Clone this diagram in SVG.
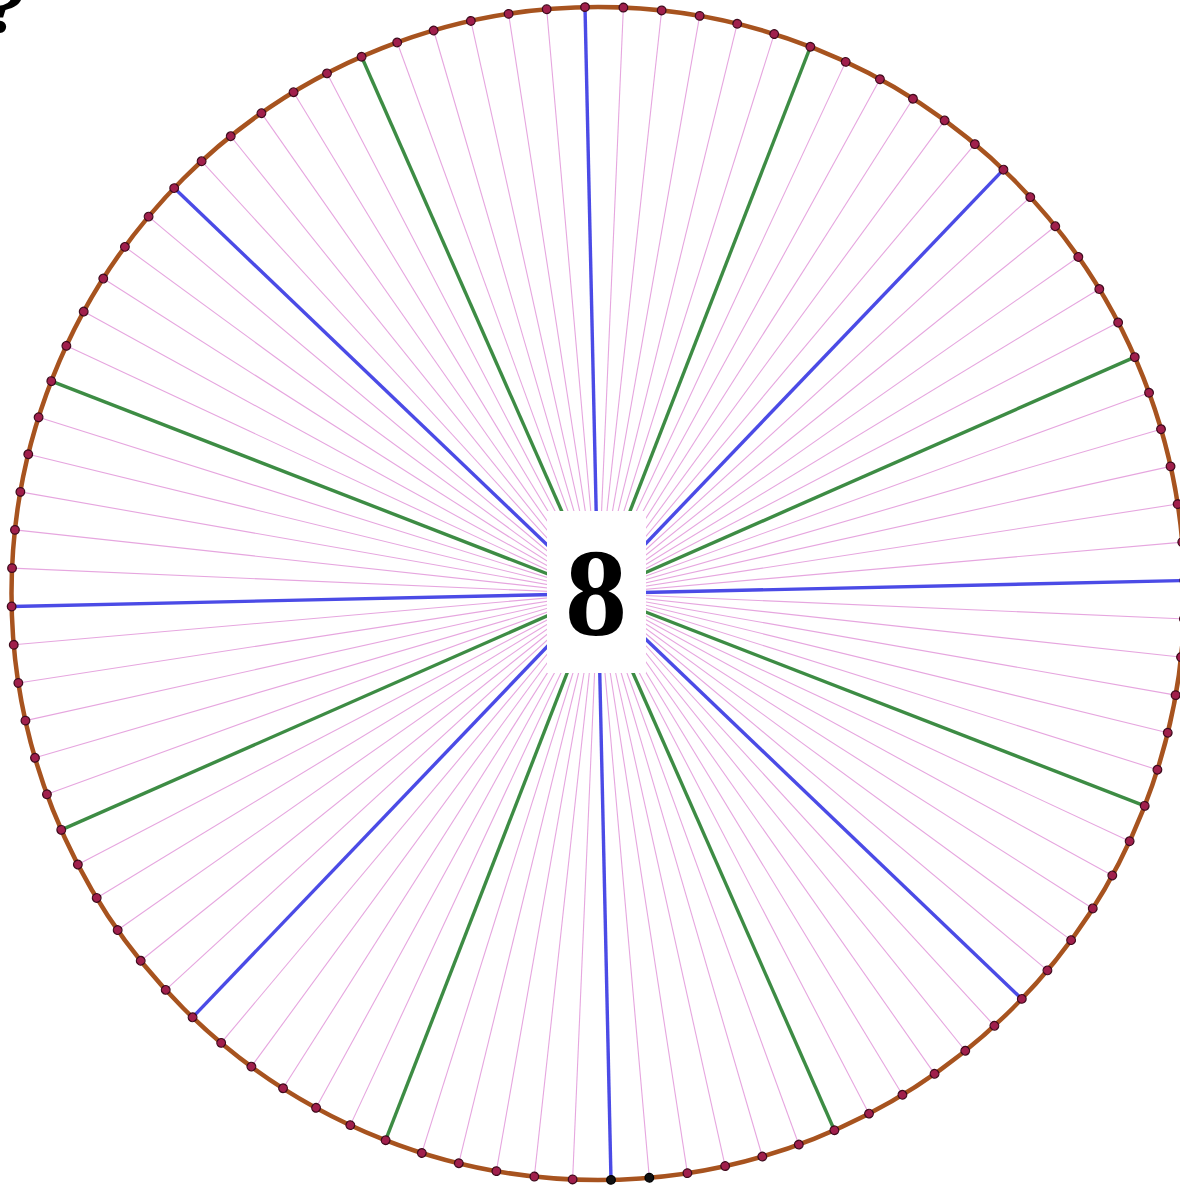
<svg xmlns="http://www.w3.org/2000/svg" xmlns:xlink="http://www.w3.org/1999/xlink" width="1180" height="1185" viewBox="0 0 1180 1185">
<style>
.pink{stroke:#e6a6df;stroke-width:1.1;fill:none}
.blue{stroke:#4b4be6;stroke-width:3.4;fill:none}
.green{stroke:#3d8c44;stroke-width:3.4;fill:none}
.rim{stroke:#a7531f;stroke-width:4.5;fill:none}
.dot{fill:#a01f4c;stroke:#3f0a1c;stroke-width:1.3}
.bdot{fill:#111;stroke:#000;stroke-width:1.3}
.num{font-family:"Liberation Serif","Times New Roman",serif;font-weight:bold;fill:#000}
</style>
<defs>
<line id="ray" x1="0" y1="0" x2="0" y2="-586.5"/>
<circle id="pt" cx="0" cy="-586.5" r="4.3"/>
</defs>
<rect width="1180" height="1185" fill="#fff"/>
<text id="qmark" class="num" x="-13" y="32" font-size="76" font-style="italic">?</text>
<g id="connectors" transform="translate(598 593.5) rotate(-1.27)">
<g class="pink">
<use xlink:href="#ray" transform="rotate(3.75)"/><use xlink:href="#ray" transform="rotate(7.5)"/><use xlink:href="#ray" transform="rotate(11.25)"/><use xlink:href="#ray" transform="rotate(15)"/><use xlink:href="#ray" transform="rotate(18.75)"/>
<use xlink:href="#ray" transform="rotate(26.25)"/><use xlink:href="#ray" transform="rotate(30)"/><use xlink:href="#ray" transform="rotate(33.75)"/><use xlink:href="#ray" transform="rotate(37.5)"/><use xlink:href="#ray" transform="rotate(41.25)"/>
<use xlink:href="#ray" transform="rotate(48.75)"/><use xlink:href="#ray" transform="rotate(52.5)"/><use xlink:href="#ray" transform="rotate(56.25)"/><use xlink:href="#ray" transform="rotate(60)"/><use xlink:href="#ray" transform="rotate(63.75)"/>
<use xlink:href="#ray" transform="rotate(71.25)"/><use xlink:href="#ray" transform="rotate(75)"/><use xlink:href="#ray" transform="rotate(78.75)"/><use xlink:href="#ray" transform="rotate(82.5)"/><use xlink:href="#ray" transform="rotate(86.25)"/>
<use xlink:href="#ray" transform="rotate(93.75)"/><use xlink:href="#ray" transform="rotate(97.5)"/><use xlink:href="#ray" transform="rotate(101.25)"/><use xlink:href="#ray" transform="rotate(105)"/><use xlink:href="#ray" transform="rotate(108.75)"/>
<use xlink:href="#ray" transform="rotate(116.25)"/><use xlink:href="#ray" transform="rotate(120)"/><use xlink:href="#ray" transform="rotate(123.75)"/><use xlink:href="#ray" transform="rotate(127.5)"/><use xlink:href="#ray" transform="rotate(131.25)"/>
<use xlink:href="#ray" transform="rotate(138.75)"/><use xlink:href="#ray" transform="rotate(142.5)"/><use xlink:href="#ray" transform="rotate(146.25)"/><use xlink:href="#ray" transform="rotate(150)"/><use xlink:href="#ray" transform="rotate(153.75)"/>
<use xlink:href="#ray" transform="rotate(161.25)"/><use xlink:href="#ray" transform="rotate(165)"/><use xlink:href="#ray" transform="rotate(168.75)"/><use xlink:href="#ray" transform="rotate(172.5)"/><use xlink:href="#ray" transform="rotate(176.25)"/>
<use xlink:href="#ray" transform="rotate(183.75)"/><use xlink:href="#ray" transform="rotate(187.5)"/><use xlink:href="#ray" transform="rotate(191.25)"/><use xlink:href="#ray" transform="rotate(195)"/><use xlink:href="#ray" transform="rotate(198.75)"/>
<use xlink:href="#ray" transform="rotate(206.25)"/><use xlink:href="#ray" transform="rotate(210)"/><use xlink:href="#ray" transform="rotate(213.75)"/><use xlink:href="#ray" transform="rotate(217.5)"/><use xlink:href="#ray" transform="rotate(221.25)"/>
<use xlink:href="#ray" transform="rotate(228.75)"/><use xlink:href="#ray" transform="rotate(232.5)"/><use xlink:href="#ray" transform="rotate(236.25)"/><use xlink:href="#ray" transform="rotate(240)"/><use xlink:href="#ray" transform="rotate(243.75)"/>
<use xlink:href="#ray" transform="rotate(251.25)"/><use xlink:href="#ray" transform="rotate(255)"/><use xlink:href="#ray" transform="rotate(258.75)"/><use xlink:href="#ray" transform="rotate(262.5)"/><use xlink:href="#ray" transform="rotate(266.25)"/>
<use xlink:href="#ray" transform="rotate(273.75)"/><use xlink:href="#ray" transform="rotate(277.5)"/><use xlink:href="#ray" transform="rotate(281.25)"/><use xlink:href="#ray" transform="rotate(285)"/><use xlink:href="#ray" transform="rotate(288.75)"/>
<use xlink:href="#ray" transform="rotate(296.25)"/><use xlink:href="#ray" transform="rotate(300)"/><use xlink:href="#ray" transform="rotate(303.75)"/><use xlink:href="#ray" transform="rotate(307.5)"/><use xlink:href="#ray" transform="rotate(311.25)"/>
<use xlink:href="#ray" transform="rotate(318.75)"/><use xlink:href="#ray" transform="rotate(322.5)"/><use xlink:href="#ray" transform="rotate(326.25)"/><use xlink:href="#ray" transform="rotate(330)"/><use xlink:href="#ray" transform="rotate(333.75)"/>
<use xlink:href="#ray" transform="rotate(341.25)"/><use xlink:href="#ray" transform="rotate(345)"/><use xlink:href="#ray" transform="rotate(348.75)"/><use xlink:href="#ray" transform="rotate(352.5)"/><use xlink:href="#ray" transform="rotate(356.25)"/>
</g>
<g class="green">
<use xlink:href="#ray" transform="rotate(22.5)"/><use xlink:href="#ray" transform="rotate(67.5)"/><use xlink:href="#ray" transform="rotate(112.5)"/><use xlink:href="#ray" transform="rotate(157.5)"/>
<use xlink:href="#ray" transform="rotate(202.5)"/><use xlink:href="#ray" transform="rotate(247.5)"/><use xlink:href="#ray" transform="rotate(292.5)"/><use xlink:href="#ray" transform="rotate(337.5)"/>
</g>
<g class="blue">
<use xlink:href="#ray"/><use xlink:href="#ray" transform="rotate(45)"/><use xlink:href="#ray" transform="rotate(90)"/><use xlink:href="#ray" transform="rotate(135)"/>
<use xlink:href="#ray" transform="rotate(180)"/><use xlink:href="#ray" transform="rotate(225)"/><use xlink:href="#ray" transform="rotate(270)"/><use xlink:href="#ray" transform="rotate(315)"/>
</g>
</g>
<g id="rim">
<circle class="rim" cx="598" cy="593.5" r="586.5"/>
</g>
<g id="points" transform="translate(598 593.5) rotate(-1.27)">
<g class="dot">
<use xlink:href="#pt"/><use xlink:href="#pt" transform="rotate(3.75)"/><use xlink:href="#pt" transform="rotate(7.5)"/><use xlink:href="#pt" transform="rotate(11.25)"/><use xlink:href="#pt" transform="rotate(15)"/><use xlink:href="#pt" transform="rotate(18.75)"/>
<use xlink:href="#pt" transform="rotate(22.5)"/><use xlink:href="#pt" transform="rotate(26.25)"/><use xlink:href="#pt" transform="rotate(30)"/><use xlink:href="#pt" transform="rotate(33.75)"/><use xlink:href="#pt" transform="rotate(37.5)"/><use xlink:href="#pt" transform="rotate(41.25)"/>
<use xlink:href="#pt" transform="rotate(45)"/><use xlink:href="#pt" transform="rotate(48.75)"/><use xlink:href="#pt" transform="rotate(52.5)"/><use xlink:href="#pt" transform="rotate(56.25)"/><use xlink:href="#pt" transform="rotate(60)"/><use xlink:href="#pt" transform="rotate(63.75)"/>
<use xlink:href="#pt" transform="rotate(67.5)"/><use xlink:href="#pt" transform="rotate(71.25)"/><use xlink:href="#pt" transform="rotate(75)"/><use xlink:href="#pt" transform="rotate(78.75)"/><use xlink:href="#pt" transform="rotate(82.5)"/><use xlink:href="#pt" transform="rotate(86.25)"/>
<use xlink:href="#pt" transform="rotate(90)"/><use xlink:href="#pt" transform="rotate(93.75)"/><use xlink:href="#pt" transform="rotate(97.5)"/><use xlink:href="#pt" transform="rotate(101.25)"/><use xlink:href="#pt" transform="rotate(105)"/><use xlink:href="#pt" transform="rotate(108.75)"/>
<use xlink:href="#pt" transform="rotate(112.5)"/><use xlink:href="#pt" transform="rotate(116.25)"/><use xlink:href="#pt" transform="rotate(120)"/><use xlink:href="#pt" transform="rotate(123.75)"/><use xlink:href="#pt" transform="rotate(127.5)"/><use xlink:href="#pt" transform="rotate(131.25)"/>
<use xlink:href="#pt" transform="rotate(135)"/><use xlink:href="#pt" transform="rotate(138.75)"/><use xlink:href="#pt" transform="rotate(142.5)"/><use xlink:href="#pt" transform="rotate(146.25)"/><use xlink:href="#pt" transform="rotate(150)"/><use xlink:href="#pt" transform="rotate(153.75)"/>
<use xlink:href="#pt" transform="rotate(157.5)"/><use xlink:href="#pt" transform="rotate(161.25)"/><use xlink:href="#pt" transform="rotate(165)"/><use xlink:href="#pt" transform="rotate(168.75)"/><use xlink:href="#pt" transform="rotate(172.5)"/>
<use xlink:href="#pt" transform="rotate(183.75)"/><use xlink:href="#pt" transform="rotate(187.5)"/><use xlink:href="#pt" transform="rotate(191.25)"/><use xlink:href="#pt" transform="rotate(195)"/><use xlink:href="#pt" transform="rotate(198.75)"/>
<use xlink:href="#pt" transform="rotate(202.5)"/><use xlink:href="#pt" transform="rotate(206.25)"/><use xlink:href="#pt" transform="rotate(210)"/><use xlink:href="#pt" transform="rotate(213.75)"/><use xlink:href="#pt" transform="rotate(217.5)"/><use xlink:href="#pt" transform="rotate(221.25)"/>
<use xlink:href="#pt" transform="rotate(225)"/><use xlink:href="#pt" transform="rotate(228.75)"/><use xlink:href="#pt" transform="rotate(232.5)"/><use xlink:href="#pt" transform="rotate(236.25)"/><use xlink:href="#pt" transform="rotate(240)"/><use xlink:href="#pt" transform="rotate(243.75)"/>
<use xlink:href="#pt" transform="rotate(247.5)"/><use xlink:href="#pt" transform="rotate(251.25)"/><use xlink:href="#pt" transform="rotate(255)"/><use xlink:href="#pt" transform="rotate(258.75)"/><use xlink:href="#pt" transform="rotate(262.5)"/><use xlink:href="#pt" transform="rotate(266.25)"/>
<use xlink:href="#pt" transform="rotate(270)"/><use xlink:href="#pt" transform="rotate(273.75)"/><use xlink:href="#pt" transform="rotate(277.5)"/><use xlink:href="#pt" transform="rotate(281.25)"/><use xlink:href="#pt" transform="rotate(285)"/><use xlink:href="#pt" transform="rotate(288.75)"/>
<use xlink:href="#pt" transform="rotate(292.5)"/><use xlink:href="#pt" transform="rotate(296.25)"/><use xlink:href="#pt" transform="rotate(300)"/><use xlink:href="#pt" transform="rotate(303.75)"/><use xlink:href="#pt" transform="rotate(307.5)"/><use xlink:href="#pt" transform="rotate(311.25)"/>
<use xlink:href="#pt" transform="rotate(315)"/><use xlink:href="#pt" transform="rotate(318.75)"/><use xlink:href="#pt" transform="rotate(322.5)"/><use xlink:href="#pt" transform="rotate(326.25)"/><use xlink:href="#pt" transform="rotate(330)"/><use xlink:href="#pt" transform="rotate(333.75)"/>
<use xlink:href="#pt" transform="rotate(337.5)"/><use xlink:href="#pt" transform="rotate(341.25)"/><use xlink:href="#pt" transform="rotate(345)"/><use xlink:href="#pt" transform="rotate(348.75)"/><use xlink:href="#pt" transform="rotate(352.5)"/><use xlink:href="#pt" transform="rotate(356.25)"/>
</g>
<g class="bdot">
<use xlink:href="#pt" transform="rotate(176.25)"/><use xlink:href="#pt" transform="rotate(180)"/>
</g>
</g>
<g id="center-label">
<rect x="547" y="511" width="99" height="162" fill="#fff"/>
<text class="num" x="596" y="635" font-size="124" text-anchor="middle">8</text>
</g>
</svg>
